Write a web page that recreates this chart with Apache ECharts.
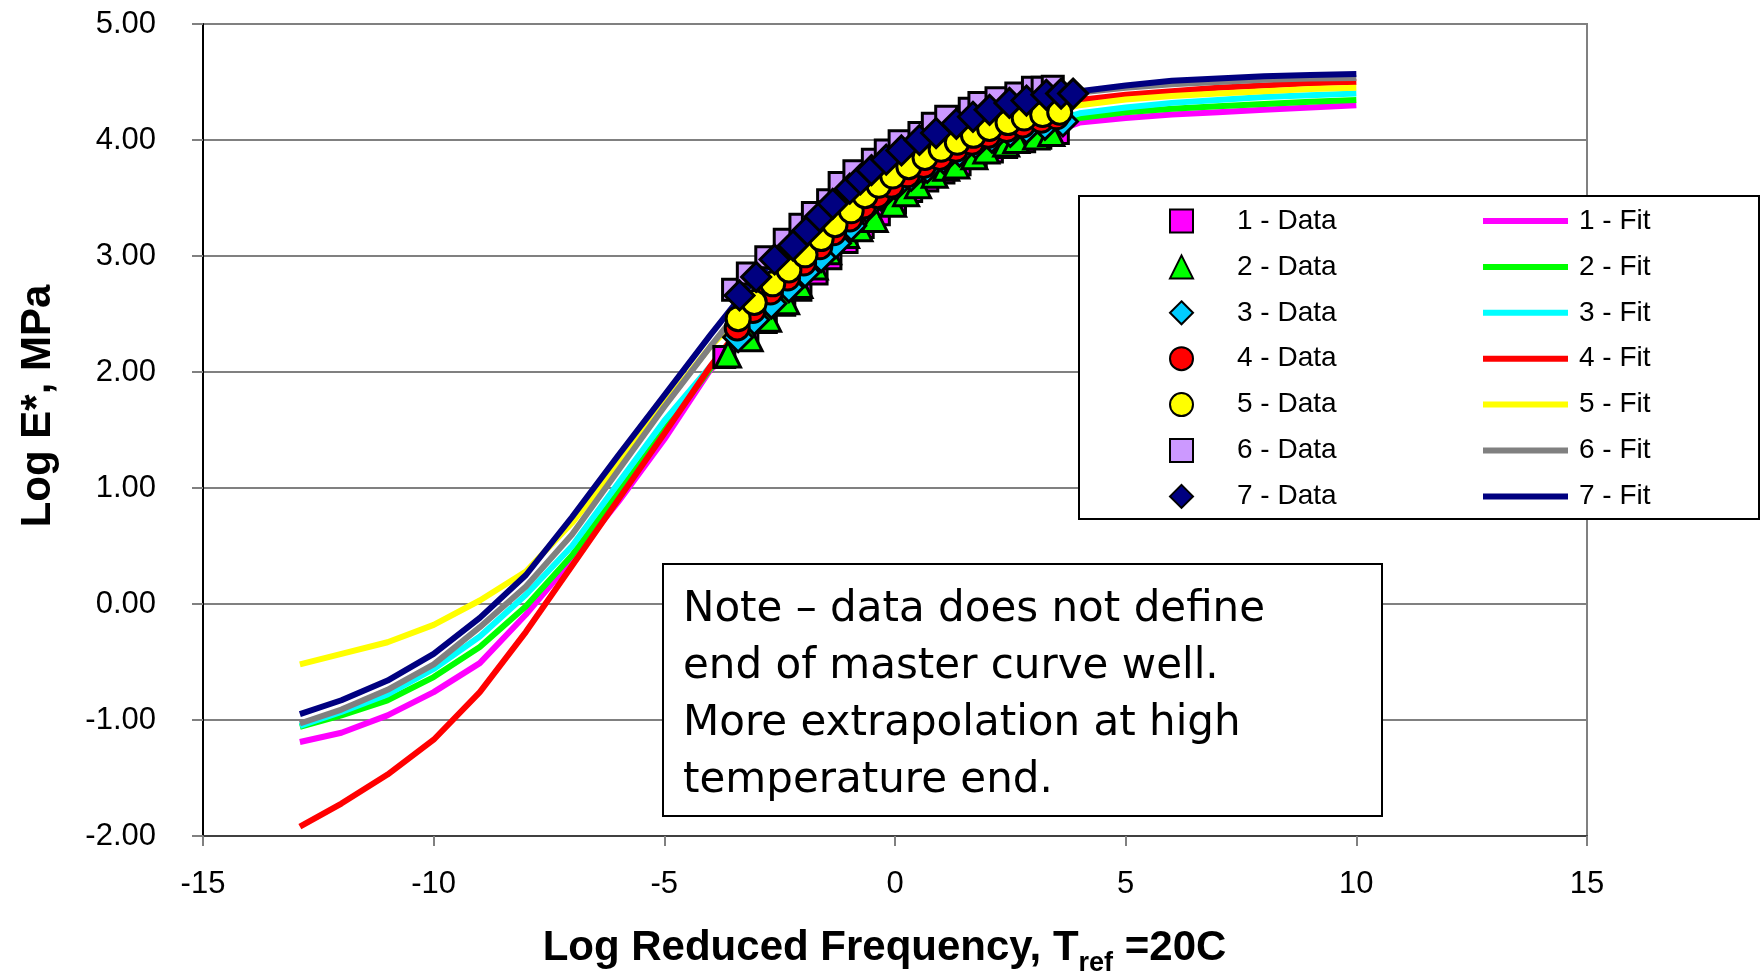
<!DOCTYPE html>
<html><head><meta charset="utf-8">
<script src="https://cdn.jsdelivr.net/npm/echarts@6/dist/echarts.min.js"></script>
<style>html,body{margin:0;padding:0;background:#fff}#c{width:1762px;height:971px}</style>
</head><body><div id="c"></div>
<script>
// ---- Fit curves (x grid shared) ----
const fitX = [-12.9,-12,-11,-10,-9,-8,-7,-6,-5,-4,-3,-2,-1,0,1,2,3,4,5,6,7,8,9,10];
const fit1 = [-1.19,-1.11,-0.96,-0.76,-0.51,-0.09,0.38,0.88,1.42,2.02,2.36,2.73,3.14,3.46,3.71,3.89,4.01,4.15,4.19,4.22,4.24,4.26,4.28,4.30];
const fit2 = [-1.06,-0.96,-0.83,-0.63,-0.37,-0.02,0.42,0.96,1.50,2.03,2.37,2.77,3.17,3.46,3.73,3.91,4.03,4.19,4.24,4.27,4.29,4.31,4.33,4.345];
const fit3 = [-1.05,-0.93,-0.78,-0.56,-0.28,0.08,0.50,1.04,1.58,2.05,2.47,2.84,3.24,3.60,3.83,4.01,4.11,4.23,4.28,4.32,4.345,4.37,4.385,4.40];
const fit4 = [-1.92,-1.72,-1.47,-1.17,-0.76,-0.24,0.33,0.90,1.47,2.05,2.56,2.92,3.30,3.60,3.85,4.03,4.16,4.345,4.39,4.42,4.45,4.47,4.49,4.50];
const fit5 = [-0.52,-0.43,-0.33,-0.18,0.03,0.28,0.70,1.20,1.72,2.22,2.62,3.01,3.38,3.69,3.92,4.09,4.20,4.30,4.35,4.38,4.40,4.42,4.44,4.45];
const fit6 = [-1.03,-0.91,-0.74,-0.52,-0.20,0.15,0.60,1.15,1.70,2.22,2.72,3.12,3.52,3.84,4.08,4.25,4.36,4.41,4.45,4.48,4.50,4.52,4.53,4.535];
const fit7 = [-0.95,-0.83,-0.66,-0.43,-0.12,0.25,0.75,1.28,1.80,2.32,2.82,3.17,3.58,3.87,4.08,4.25,4.36,4.42,4.47,4.51,4.53,4.55,4.56,4.57];

// ---- Measured data ----
const d1x = [-3.70,-3.20,-2.80,-2.40,-2.05,-1.70,-1.40,-1.05,-0.70,-0.35,0.00,0.35,0.70,1.05,1.40,1.75,2.10,2.41,2.80,3.15,3.53];
const d1y = [2.13,2.28,2.43,2.58,2.71,2.85,2.98,3.12,3.25,3.36,3.46,3.56,3.65,3.72,3.79,3.85,3.90,3.94,3.99,4.02,4.06];
const d2x = [-3.62,-3.15,-2.75,-2.36,-2.07,-1.74,-1.45,-1.06,-0.77,-0.44,-0.04,0.24,0.50,0.86,1.11,1.33,1.72,1.98,2.41,2.63,3.06,3.39];
const d2y = [2.15,2.29,2.46,2.61,2.75,2.91,3.04,3.18,3.24,3.32,3.45,3.54,3.61,3.70,3.76,3.78,3.86,3.91,3.97,4.00,4.03,4.06];
const d3x = [-3.40,-3.05,-2.68,-2.30,-1.95,-1.60,-1.28,-0.95,-0.62,-0.30,0.02,0.35,0.70,1.05,1.40,1.75,2.10,2.50,2.85,3.25,3.64];
const d3y = [2.30,2.45,2.59,2.73,2.86,2.99,3.11,3.26,3.42,3.52,3.61,3.69,3.76,3.84,3.90,3.97,4.02,4.07,4.10,4.13,4.16];
const d4x = [-3.42,-3.08,-2.70,-2.33,-1.98,-1.63,-1.33,-0.98,-0.68,-0.38,-0.08,0.27,0.62,0.97,1.32,1.67,2.02,2.42,2.77,3.17,3.50];
const d4y = [2.38,2.53,2.69,2.81,2.94,3.08,3.20,3.32,3.43,3.52,3.61,3.70,3.78,3.85,3.92,3.98,4.04,4.09,4.13,4.17,4.20];
const d5x = [-3.40,-3.05,-2.65,-2.30,-1.95,-1.60,-1.30,-0.95,-0.65,-0.35,-0.05,0.30,0.65,1.00,1.35,1.70,2.05,2.45,2.80,3.20,3.57];
const d5y = [2.46,2.60,2.76,2.88,3.01,3.15,3.27,3.39,3.52,3.61,3.69,3.77,3.85,3.92,3.98,4.04,4.10,4.15,4.19,4.22,4.24];
const d6x = [-3.51,-3.19,-2.79,-2.39,-2.05,-1.78,-1.45,-1.20,-0.88,-0.48,-0.20,0.10,0.53,0.82,1.11,1.62,1.83,2.20,2.63,2.99,3.20,3.42];
const d6y = [2.71,2.85,2.99,3.14,3.27,3.37,3.48,3.63,3.73,3.83,3.91,3.99,4.06,4.14,4.20,4.27,4.32,4.36,4.40,4.45,4.45,4.46];
const d7x = [-3.37,-3.01,-2.61,-2.21,-1.90,-1.63,-1.35,-0.98,-0.75,-0.51,-0.19,0.14,0.53,0.89,1.33,1.69,2.05,2.48,2.85,3.28,3.60,3.86];
const d7y = [2.66,2.82,2.97,3.09,3.22,3.34,3.45,3.58,3.66,3.74,3.83,3.91,4.00,4.06,4.14,4.20,4.26,4.32,4.34,4.39,4.40,4.40];

const dataNames = ['1 - Data','2 - Data','3 - Data','4 - Data','5 - Data','6 - Data','7 - Data'];
const fitNames  = ['1 - Fit','2 - Fit','3 - Fit','4 - Fit','5 - Fit','6 - Fit','7 - Fit'];
const noteLines = ['Note \u2013 data does not define','end of master curve well.','More extrapolation at high','temperature end.'];
const yAxisTitle = 'Log E*, MPa';

const fitYs = [fit1,fit2,fit3,fit4,fit5,fit6,fit7];
const dataXs = [d1x,d2x,d3x,d4x,d5x,d6x,d7x];
const dataYs = [d1y,d2y,d3y,d4y,d5y,d6y,d7y];
const fitColors  = ['#FF00FF','#00FF00','#00FFFF','#FF0000','#FFFF00','#808080','#000080'];
const dataColors = ['#FF00FF','#00FF00','#00CCFF','#FF0000','#FFFF00','#CC99FF','#000080'];
const symbols = ['rect','triangle','diamond','circle','circle','rect','diamond'];
const symbolSizes = [21,25,29,24,24,21,29];

const zip = (xs, ys) => xs.map((x, i) => [x, ys[i]]);
const series = [];
fitYs.forEach((ys, i) => series.push({
  name: fitNames[i], type: 'line', data: zip(fitX, ys), showSymbol: false, symbol: 'none',
  smooth: false, lineStyle: { color: fitColors[i], width: 6 }, itemStyle: { color: fitColors[i] },
  emphasis: { disabled: true }, z: 2
}));
dataXs.forEach((xs, i) => series.push({
  name: dataNames[i], type: 'scatter', data: zip(xs, dataYs[i]), symbol: symbols[i], symbolSize: symbolSizes[i],
  itemStyle: { color: dataColors[i], borderColor: '#000', borderWidth: 3, opacity: 1 },
  emphasis: { disabled: true }, z: 3
}));

const chart = echarts.init(document.getElementById('c'));
chart.setOption({
  animation: false,
  backgroundColor: '#fff',
  grid: { left: 203, right: 175, top: 24, bottom: 135, show: true, borderColor: '#808080', borderWidth: 2, containLabel: false, outerBoundsMode: 'none' },
  xAxis: {
    type: 'value', min: -15, max: 15, interval: 5,
    name: 'Log Reduced Frequency, T{sub|ref} =20C', nameLocation: 'middle', nameGap: 84,
    nameTextStyle: { fontFamily: 'Liberation Sans', fontWeight: 'bold', fontSize: 42, color: '#000', padding: [0, 21, 0, 0],
      rich: { sub: { fontFamily: 'Liberation Sans', fontWeight: 'bold', fontSize: 27, color: '#000', padding: [30, 0, 0, 0] } } },
    axisLine: { show: true, onZero: false, lineStyle: { color: '#404040', width: 2 } },
    axisTick: { show: true, inside: false, length: 10, lineStyle: { color: '#808080', width: 2 } },
    axisLabel: { fontFamily: 'Liberation Sans', fontSize: 31, color: '#000', margin: 33 },
    splitLine: { show: false }
  },
  yAxis: {
    type: 'value', min: -2, max: 5, interval: 1,
    name: yAxisTitle, nameLocation: 'middle', nameGap: 144, nameRotate: 90,
    nameTextStyle: { fontFamily: 'Liberation Sans', fontWeight: 'bold', fontSize: 42, color: '#000', padding: [0, 0, 0, 48] },
    axisLine: { show: true, onZero: false, lineStyle: { color: '#000', width: 2 } },
    axisTick: { show: true, inside: false, length: 11, lineStyle: { color: '#808080', width: 2 } },
    axisLabel: { fontFamily: 'Liberation Sans', fontSize: 31, color: '#000', margin: 47, formatter: v => v.toFixed(2) },
    splitLine: { show: true, lineStyle: { color: '#808080', width: 2 } }
  },
  legend: [
    { data: dataNames.map(n => ({ name: n })), orient: 'vertical', left: 1169, top: 207, padding: 0,
      itemWidth: 23, itemHeight: 23, itemGap: 17.9, selectedMode: false,
      textStyle: { fontFamily: 'Liberation Sans', fontSize: 28, color: '#000', lineHeight: 24, padding: [0, 0, 0, 39] } },
    { data: fitNames.map(n => ({ name: n, icon: 'rect', itemStyle: { borderWidth: 0 } })), orient: 'vertical', left: 1483, top: 207, padding: 0,
      itemWidth: 85, itemHeight: 6, itemGap: 17.9, selectedMode: false,
      textStyle: { fontFamily: 'Liberation Sans', fontSize: 28, color: '#000', lineHeight: 24, padding: [0, 0, 0, 6] } }
  ],
  graphic: [
    { type: 'rect', z: 3, shape: { x: 1079, y: 196, width: 680, height: 323 }, style: { fill: '#fff', stroke: '#000', lineWidth: 2 } },
    { type: 'rect', z: 3, shape: { x: 663, y: 564, width: 719, height: 252 }, style: { fill: '#fff', stroke: '#000', lineWidth: 2 } },
    { type: 'text', z: 4, x: 683, y: 581, style: { text: noteLines.join('\n'), fontFamily: 'DejaVu Sans', fontSize: 42, lineHeight: 57.3, fill: '#000' } }
  ],
  series: series
});
</script>
</body></html>
